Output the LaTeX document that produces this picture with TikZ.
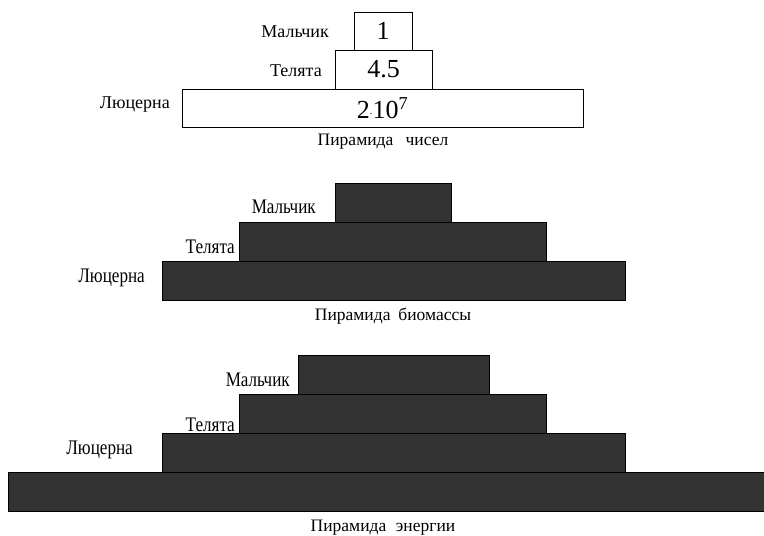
\documentclass[tikz,border=0pt]{standalone}
\usepackage{fontspec}
\setmainfont{Liberation Serif}
\usetikzlibrary{positioning}
\definecolor{layerfill}{HTML}{333333}
\newcommand{\tallword}[1]{\scalebox{0.95}[1.15]{#1}}
\tikzset{
  numbox/.style={draw, line width=0.8pt, fill=white, inner sep=0pt, outer sep=0pt,
    font=\fontsize{26}{26}\selectfont},
  massbox/.style={draw=black, line width=0.8pt, fill=layerfill, inner sep=0pt, outer sep=0pt},
  lbl/.style={inner sep=0pt, font=\fontsize{18}{18}\selectfont},
  pyrtitle/.style={inner sep=0pt, font=\fontsize{17.5}{17.5}\selectfont}
}

\begin{document}
\begin{tikzpicture}[x=1pt, y=-1pt]
  \useasboundingbox (0,0) rectangle (764,536);

  % pyramid of numbers
  \node[numbox, minimum width=58pt, minimum height=38pt] (nb) at (383,31) {1};
  \node[numbox, minimum width=97pt, minimum height=39pt] (nc) at (383.5,69.5) {4.5};
  \node[numbox, minimum width=401pt, minimum height=38pt] (nl) at (382.5,108)
    {\raisebox{-5pt}{2\raisebox{4pt}{\fontsize{11}{11}\selectfont.}10\textsuperscript{7}}};
  \node[lbl, left=25pt of nb.west, yshift=-1pt] (nbl) {Мальчик};
  \node[lbl, left=13pt of nc.west, yshift=-1.5pt] (ncl) {Телята};
  \node[lbl, left=12pt of nl.west, yshift=3pt] (nll) {Люцерна};
  \node[pyrtitle] (nt) at (383,142) {Пирамида\hspace{0.45em} чисел};

  % pyramid of biomass
  \node[massbox, minimum width=116pt, minimum height=39pt] (mb) at (393,202.5) {};
  \node[massbox, minimum width=307pt, minimum height=39pt] (mc) at (392.5,241.5) {};
  \node[massbox, minimum width=463pt, minimum height=39pt] (ml) at (393.5,280.5) {};
  \node[lbl, left=19pt of mb.west, yshift=-4.5pt] (mbl) {\tallword{Мальчик}};
  \node[lbl, left=4pt of mc.west, yshift=-5.5pt] (mcl) {\tallword{Телята}};
  \node[lbl, left=17pt of ml.west, yshift=2.5pt] (mll) {\tallword{Люцерна}};
  \node[pyrtitle] (mt) at (393,316) {Пирамида\hspace{0.2em} биомассы};

  % pyramid of energy
  \node[massbox, minimum width=191pt, minimum height=39pt] (eb) at (393.5,374.5) {};
  \node[massbox, minimum width=307pt, minimum height=39pt] (ec) at (392.5,413.5) {};
  \node[massbox, minimum width=463pt, minimum height=39pt] (el) at (393.5,452.5) {};
  \node[massbox, minimum width=760pt, minimum height=39pt] (es) at (388,491.5) {};
  \node[lbl, left=8pt of eb.west, yshift=-5.5pt] (ebl) {\tallword{Мальчик}};
  \node[lbl, left=4pt of ec.west, yshift=-11.5pt] (ecl) {\tallword{Телята}};
  \node[lbl, left=29pt of el.west, yshift=2.5pt] (ell) {\tallword{Люцерна}};
  \node[pyrtitle] (et) at (383,528) {Пирамида\hspace{0.3em} энергии};
\end{tikzpicture}
\end{document}
